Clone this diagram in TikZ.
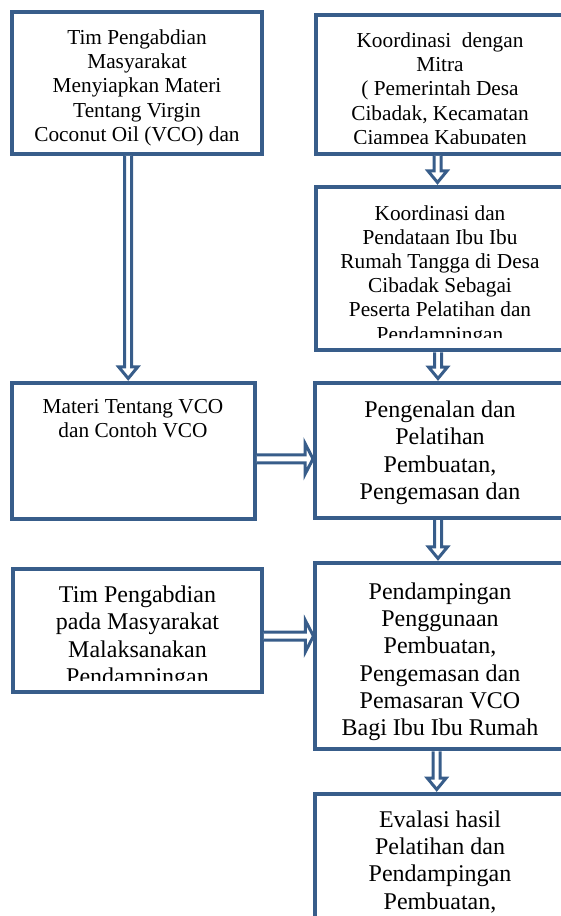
\documentclass[tikz,border=0pt]{standalone}
\usepackage{fontspec}
\setmainfont{Liberation Serif}
\usetikzlibrary{calc}

\definecolor{vcoblue}{RGB}{56,93,138}

\tikzset{
  box/.style={draw=vcoblue, line width=4pt, fill=white, inner sep=0pt},
  % texts are placed at the baseline of their last line
  smalltext/.style={align=center, anchor=base, inner sep=0pt,
    font=\fontsize{21.3}{24.2}\selectfont},
  bigtext/.style={align=center, anchor=base, inner sep=0pt,
    font=\fontsize{24}{27.3}\selectfont},
  % block arrows, open at the start so they sit on the box border
  downblock/.style={draw=vcoblue, fill=white, line width=3pt, line join=miter,
    to path={let \p1=(\tikztostart), \p2=(\tikztotarget) in
      (\x1-3.5pt,\y1) -- (\x1-3.5pt,\y2+14pt) -- (\x1-9.5pt,\y2+14pt)
      -- (\x1,\y2+2.5pt) -- (\x1+9.5pt,\y2+14pt) -- (\x1+3.5pt,\y2+14pt)
      -- (\x1+3.5pt,\y1)}},
  rightblock/.style={draw=vcoblue, fill=white, line width=3pt, line join=miter,
    to path={let \p1=(\tikztostart), \p2=(\tikztotarget) in
      (\x1,\y1+4pt) -- (\x2-8pt,\y1+4pt) -- (\x2-8pt,\y1+15.5pt)
      -- (\x2,\y1) -- (\x2-8pt,\y1-15.5pt) -- (\x2-8pt,\y1-4pt)
      -- (\x1,\y1-4pt)}},
}

\begin{document}
\begin{tikzpicture}[x=1pt,y=-1pt]
  \clip (0,0) rectangle (561,916);

  % left column
  \node[box, minimum width=250.5pt, minimum height=141.5pt] (timA) at (137.2,83.2) {};
  \node[box, minimum width=243.3pt, minimum height=135.7pt] (materi) at (133.3,450.8) {};
  \node[box, minimum width=248.7pt, minimum height=122.7pt] (timB) at (137.6,630.6) {};

  % right column, cut by the right edge
  \node[box, minimum width=248pt, minimum height=139.3pt] (koord) at (440,84.3) {};
  \node[box, minimum width=248pt, minimum height=163.5pt] (pendataan) at (440,268.7) {};
  \node[box, minimum width=249pt, minimum height=135pt] (pengenalan) at (439.5,450.5) {};
  \node[box, minimum width=248.5pt, minimum height=186.3pt] (pendampingan) at (439.7,656.1) {};
  \node[box, minimum width=248.5pt, minimum height=146pt] (evaluasi) at (439.7,867) {};

  % texts
  \node[smalltext] (timAtext) at (137,141.3)
    {Tim Pengabdian\\Masyarakat\\Menyiapkan Materi\\Tentang Virgin\\Coconut Oil (VCO) dan};
  \node[smalltext] (materitext) at (133,437.6)
    {Materi Tentang VCO\\dan Contoh VCO};
  \begin{scope}
    \clip (318,16) rectangle (562,143.5);
    \node[smalltext] (koordtext) at (440,144.2)
      {Koordinasi~ dengan\\Mitra\\( Pemerintah Desa\\Cibadak, Kecamatan\\Ciampea Kabupaten};
  \end{scope}
  \begin{scope}
    \clip (318,189) rectangle (562,337);
    \node[smalltext] (pendataantext) at (440,341)
      {Koordinasi dan\\Pendataan Ibu Ibu\\Rumah Tangga di Desa\\Cibadak Sebagai\\Peserta Pelatihan dan\\Pendampingan};
  \end{scope}
  \node[bigtext] (pengenalantext) at (440,499.5)
    {Pengenalan dan\\Pelatihan\\Pembuatan,\\Pengemasan dan};
  \begin{scope}
    \clip (15,571) rectangle (260,680);
    \node[bigtext] (timBtext) at (137.5,684.5)
      {Tim Pengabdian\\pada Masyarakat\\Malaksanakan\\Pendampingan};
  \end{scope}
  \node[bigtext] (pendampingantext) at (440,735.7)
    {Pendampingan\\Penggunaan\\Pembuatan,\\Pengemasan dan\\Pemasaran VCO\\Bagi Ibu Ibu Rumah};
  \node[bigtext] (evaluasitext) at (440,909)
    {Evalasi hasil\\Pelatihan dan\\Pendampingan\\Pembuatan,};

  % arrows
  \draw[downblock] ([xshift=-9pt]timA.south) to (materi.north);
  \draw[downblock] ([xshift=-2.5pt]koord.south) to (pendataan.north);
  \draw[downblock] ([xshift=-2pt]pendataan.south) to (pengenalan.north);
  \draw[downblock] ([xshift=-1.5pt]pengenalan.south) to (pendampingan.north);
  \draw[downblock] ([xshift=-3pt]pendampingan.south) to (evaluasi.north);
  \draw[rightblock] ([yshift=-8pt]materi.east) to (pengenalan.west);
  \draw[rightblock] ([yshift=-5.5pt]timB.east) to (pendampingan.west);
\end{tikzpicture}
\end{document}
